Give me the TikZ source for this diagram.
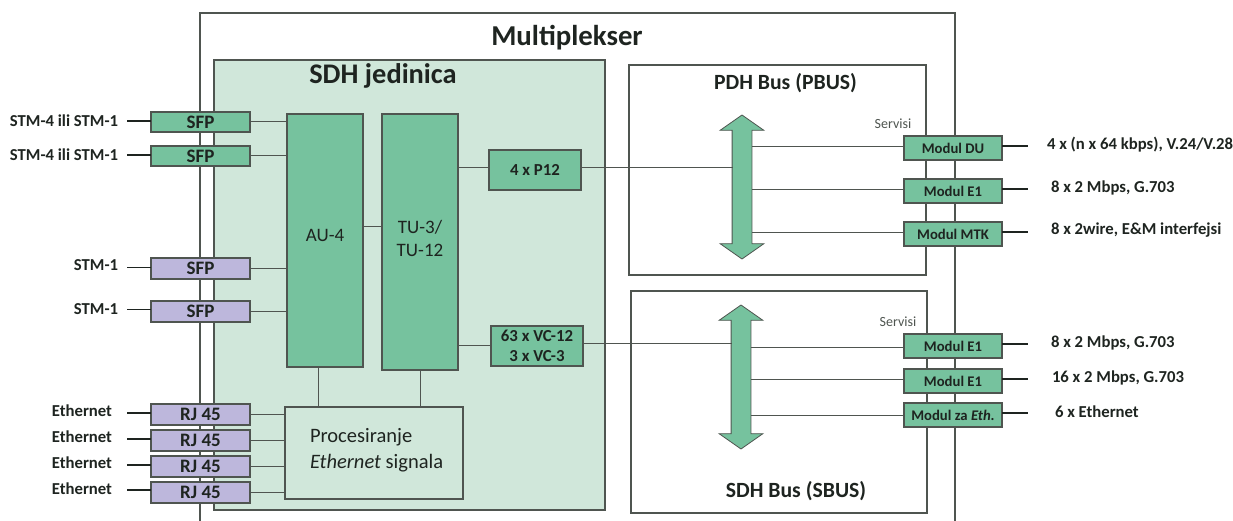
\documentclass[tikz,border=0pt]{standalone}
\usepackage{fontspec}
\setmainfont{Carlito}
\usetikzlibrary{shapes.arrows,calc}
\definecolor{lgreen}{HTML}{D0E7DA}
\definecolor{mgreen}{HTML}{76C29E}
\definecolor{lpurple}{HTML}{BDB7DC}
\definecolor{edge}{HTML}{4F5550}
\definecolor{ink}{HTML}{1E2420}
\newcommand{\bx}[7]{\node[#6,minimum width=#4pt-#2pt,minimum height=#5pt-#3pt] (#1) at ({(#2+#4)/2},{(#3+#5)/2}) {#7};}
\newcommand{\fsz}[1]{\fontsize{#1}{#1}\selectfont}
\tikzset{
  every node/.style={inner sep=0pt,outer sep=0pt,text=ink},
  frame/.style={draw=edge,line width=1.1pt},
  wire/.style={draw=edge,line width=1.0pt},
  stub/.style={draw=ink,line width=1.7pt},
  gbox/.style={frame,fill=mgreen,align=center},
  pbox/.style={frame,fill=lpurple,align=center},
  portlab/.style={font=\bfseries\fsz{19}},
  modlab/.style={font=\bfseries\fsz{14.7}},
  extlab/.style={font=\bfseries\fsz{16.7}},
  buslab/.style={font=\bfseries\fsz{21.7}},
  busarrow/.style={double arrow,draw=edge,line width=0.8pt,fill=mgreen,rotate=90,inner sep=9.5pt,
    double arrow head extend=12pt,double arrow tip angle=110,anchor=center},
}
\begin{document}
\begin{tikzpicture}[x=1pt,y=-1pt]
\useasboundingbox (0,0) rectangle (1233,521);
% outer multiplexer frame (open at the bottom)
\draw[frame] (200,521) -- (200,13) -- (955,13) -- (955,521);
\node[font=\bfseries\fsz{28.8}] (title) at (567,38) {Multiplekser};
\bx{sdh}{214}{60}{605}{510}{frame,fill=lgreen}{}
\node[font=\bfseries\fsz{28.4}] (sdhlab) at (383,76) {SDH jedinica};
\bx{pbus}{629}{65}{926}{275}{frame,fill=white}{}
\bx{sbus}{631}{291}{927}{513}{frame,fill=white}{}
\node[buslab] (pbuslab) at (785.5,83) {PDH Bus (PBUS)};
\node[buslab] (sbuslab) at (796,491) {SDH Bus (SBUS)};
\node[font=\fsz{14},text=edge] (srv1) at (893,124) {Servisi};
\node[font=\fsz{14},text=edge] (srv2) at (898,322) {Servisi};
% buses
\node[busarrow,minimum height=144pt] (bus1) at (742,187) {};
\node[busarrow,minimum height=144pt] (bus2) at (741,377) {};
\coordinate (b1l) at ([xshift=-9.5pt]bus1.center);
\coordinate (b1r) at ([xshift=9.5pt]bus1.center);
\coordinate (b2l) at ([xshift=-9.5pt]bus2.center);
\coordinate (b2r) at ([xshift=9.5pt]bus2.center);
% SDH blocks
\bx{au}{287}{114}{363}{367}{gbox}{}
\node[font=\fsz{19}] (autext) at (325,235) {AU-4};
\bx{tu}{382}{114}{458}{370}{gbox}{}
\node[font=\fsz{19},align=center] (tutext) at (420,238) {TU-3/\\[4pt]TU-12};
\bx{p12}{489}{150}{581}{190}{gbox,font=\bfseries\fsz{16.8}}{4 x P12}
\bx{vc}{491}{326}{583}{366}{gbox,font=\bfseries\fsz{16.8}}{63 x VC-12\\[3pt]3 x VC-3}
\bx{proc}{285}{407}{463}{499}{frame,fill=lgreen}{}
\node[font=\fsz{20.5},align=left,anchor=west] (proctext) at (310,450) {Procesiranje\\[5pt]\textit{Ethernet} signala};
% ports
\bx{sfpa}{151}{112}{250}{132}{gbox,portlab}{SFP}
\bx{sfpb}{151}{146}{250}{166}{gbox,portlab}{SFP}
\bx{sfpc}{151}{258}{250}{279}{pbox,portlab}{SFP}
\bx{sfpd}{151}{301}{250}{322}{pbox,portlab}{SFP}
\bx{rja}{151}{404}{250}{425}{pbox,portlab}{RJ 45}
\bx{rjb}{151}{430}{250}{451}{pbox,portlab}{RJ 45}
\bx{rjc}{151}{456}{250}{477}{pbox,portlab}{RJ 45}
\bx{rjd}{151}{482}{250}{503}{pbox,portlab}{RJ 45}
% modules
\bx{mdu}{904}{136}{1002}{160}{gbox,modlab}{Modul DU}
\bx{mea}{904}{179}{1002}{203}{gbox,modlab}{Modul E1}
\bx{mtk}{904}{222}{1002}{246}{gbox,modlab}{Modul MTK}
\bx{meb}{904}{334}{1002}{358}{gbox,modlab}{Modul E1}
\bx{mec}{904}{369}{1002}{393}{gbox,modlab}{Modul E1}
\bx{met}{904}{403}{1002}{427}{gbox,modlab}{Modul za \textit{Eth.}}
% internal wires
\foreach \p in {sfpa,sfpb,sfpc,sfpd}{\draw[wire] (\p.east) -- (\p.east -| au.west);}
\foreach \p in {rja,rjb,rjc,rjd}{\draw[wire] (\p.east) -- (\p.east -| proc.west);}
\draw[wire] ([yshift=14pt]au.east) -- ([yshift=14pt]au.east -| tu.west);
\draw[wire] ([yshift=2pt]p12.west) -- ([yshift=2pt]p12.west -| tu.east);
\draw[wire] ([yshift=1pt]vc.west) -- ([yshift=1pt]vc.west -| tu.east);
\draw[wire] ([xshift=-7pt]au.south) -- ([xshift=-7pt]au.south |- proc.north);
\draw[wire] (tu.south) -- (tu.south |- proc.north);
\draw[wire] ([yshift=2pt]p12.east) -- ([yshift=2pt]p12.east -| b1l);
\draw[wire] ([yshift=3pt]vc.east) -- ([yshift=3pt]vc.east -| b2l);
\foreach \m in {mdu,mea,mtk}{\draw[wire] ([yshift=1pt]\m.west) -- ([yshift=1pt]\m.west -| b1r);}
\draw[wire] ([yshift=-1pt]meb.west) -- ([yshift=-1pt]meb.west -| b2r);
\draw[wire] ([yshift=2pt]mec.west) -- ([yshift=2pt]mec.west -| b2r);
\draw[wire] (met.west) -- (met.west -| b2r);
% left labels and stubs
\node[extlab] (lsa) at (64,121) {STM-4 ili STM-1};
\node[extlab] (lsb) at (64,155) {STM-4 ili STM-1};
\node[extlab] (lsc) at (96,265) {STM-1};
\node[extlab] (lsd) at (96,309) {STM-1};
\node[extlab] (lea) at (82,411) {Ethernet};
\node[extlab] (leb) at (82,437) {Ethernet};
\node[extlab] (lec) at (82,463) {Ethernet};
\node[extlab] (led) at (82,489) {Ethernet};
\foreach \p/\y in {sfpa/1,sfpb/1,sfpc/1,sfpd/2,rja/1.5,rjb/1.5,rjc/1.5,rjd/2.5}{
  \coordinate (s\p) at ([yshift=\y pt,xshift=-24pt]\p.west);
  \draw[stub] (s\p) -- (s\p -| \p.west);}
% right labels and stubs
\node[extlab,anchor=west] (ra) at (1047,145) {4 x (n x 64 kbps), V.24/V.28};
\node[extlab,anchor=west] (rb) at (1051,188) {8 x 2 Mbps, G.703};
\node[extlab,anchor=west] (rc) at (1051,230) {8 x 2wire, E\&M interfejsi};
\node[extlab,anchor=west] (rd) at (1051,343) {8 x 2 Mbps, G.703};
\node[extlab,anchor=west] (re) at (1052,378) {16 x 2 Mbps, G.703};
\node[extlab,anchor=west] (rf) at (1055,412) {6 x Ethernet};
\foreach \m/\y in {mdu/2,mea/2,mtk/2,meb/2,mec/2,met/2}{
  \coordinate (s\m) at ([yshift=\y pt,xshift=26pt]\m.east);
  \draw[stub] (\m.east |- s\m) -- (s\m);}
\end{tikzpicture}
\end{document}
